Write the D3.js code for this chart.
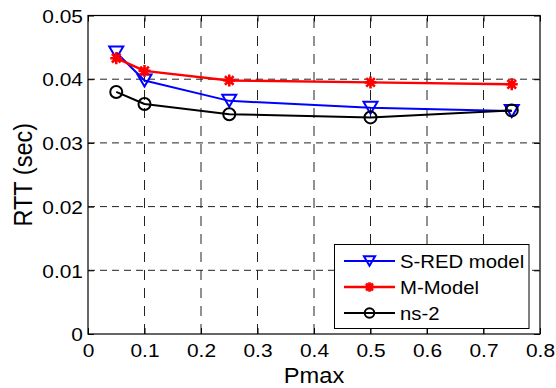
<!DOCTYPE html>
<html>
<head>
<meta charset="utf-8">
<script src="https://cdn.jsdelivr.net/npm/d3@7"></script>
<style>
  html, body { margin: 0; padding: 0; background: #fff; }
  svg { display: block; }
  text { font-family: "Liberation Sans", Arial, sans-serif; fill: #000; }
</style>
</head>
<body>
<svg id="chart" width="556" height="388"></svg>
<script>
// ---- data ----
const pmax = [0.05, 0.1, 0.25, 0.5, 0.75];
const sredModel = [0.0442, 0.0398, 0.0366, 0.0355, 0.0350];
const mModel = [0.0433, 0.0413, 0.0398, 0.0395, 0.0392];
const ns2 = [0.0380, 0.0361, 0.0345, 0.0340, 0.0351];
const seriesNames = ["S-RED model", "M-Model", "ns-2"];
const seriesColors = ["#0000ff", "#ff0000", "#000000"];
const seriesMarkers = ["triangleDown", "asterisk", "circle"];
const xTicks = [0, 0.1, 0.2, 0.3, 0.4, 0.5, 0.6, 0.7, 0.8];
const xTickLabels = ["0", "0.1", "0.2", "0.3", "0.4", "0.5", "0.6", "0.7", "0.8"];
const yTicks = [0, 0.01, 0.02, 0.03, 0.04, 0.05];
const yTickLabels = ["0", "0.01", "0.02", "0.03", "0.04", "0.05"];
const xLabel = "Pmax";
const yLabel = "RTT (sec)";

// ---- layout ----
const L = 88, R = 540, T = 15.5, B = 334;
const SX = 1.1; // horizontal text stretch
const svg = d3.select("#chart");
const x = d3.scaleLinear().domain([0, 0.8]).range([L, R]);
const y = d3.scaleLinear().domain([0, 0.05]).range([B, T]);

// grid
const grid = svg.append("g");
grid.selectAll("line.gx").data(xTicks.slice(1, -1)).enter().append("line")
  .attr("x1", d => x(d)).attr("x2", d => x(d)).attr("y1", B).attr("y2", T)
  .attr("stroke", "#222").attr("stroke-width", 1).attr("stroke-dasharray", "10,8");
grid.selectAll("line.gy").data(yTicks.slice(1, -1)).enter().append("line")
  .attr("x1", L).attr("x2", R).attr("y1", d => y(d)).attr("y2", d => y(d))
  .attr("stroke", "#222").attr("stroke-width", 1).attr("stroke-dasharray", "7,5");

// axes
const gx = svg.append("g").attr("transform", `translate(0,${B})`)
  .call(d3.axisBottom(x).tickValues(xTicks).tickFormat((d, i) => xTickLabels[i])
    .tickSizeInner(-6).tickSizeOuter(0).tickPadding(8));
const gxTop = svg.append("g").attr("transform", `translate(0,${T})`)
  .call(d3.axisTop(x).tickValues(xTicks).tickFormat("").tickSizeInner(-6).tickSizeOuter(0));
const gy = svg.append("g").attr("transform", `translate(${L},0)`)
  .call(d3.axisLeft(y).tickValues(yTicks).tickFormat((d, i) => yTickLabels[i])
    .tickSizeInner(-6).tickSizeOuter(0).tickPadding(5));
const gyR = svg.append("g").attr("transform", `translate(${R},0)`)
  .call(d3.axisRight(y).tickValues(yTicks).tickFormat("").tickSizeInner(-6).tickSizeOuter(0));
[gx, gxTop, gy, gyR].forEach(g => {
  g.select(".domain").remove();
  g.selectAll(".tick line").attr("stroke", "#000").attr("stroke-width", 1);
});
gx.selectAll(".tick text").attr("font-size", 19).attr("font-family", "Liberation Sans, Arial, sans-serif")
  .attr("y", null).attr("dy", null)
  .attr("transform", "translate(0,22.5) scale(" + SX + ",1)");
gy.selectAll(".tick text").attr("font-size", 19).attr("font-family", "Liberation Sans, Arial, sans-serif")
  .attr("x", null).attr("dy", null)
  .attr("transform", "translate(-5,6.7) scale(" + SX + ",1)");

// box
svg.append("rect").attr("x", L).attr("y", T).attr("width", R - L).attr("height", B - T)
  .attr("fill", "none").attr("stroke", "#000").attr("stroke-width", 1.2);

// axis labels
svg.append("text").text(xLabel).attr("font-size", 21.5).attr("text-anchor", "middle")
  .attr("transform", `translate(${(L + R) / 2},383) scale(${SX},1)`);
svg.append("text").text(yLabel).attr("font-size", 23.5).attr("text-anchor", "middle")
  .attr("transform", `translate(32,${(T + B) / 2}) scale(${SX},1) rotate(-90)`);

// markers
function markerPath(type, s) {
  const p = d3.path();
  if (type === "triangleDown") {
    p.moveTo(-7 * s, -6 * s); p.lineTo(7 * s, -6 * s); p.lineTo(0, 6 * s); p.closePath();
  } else if (type === "asterisk") {
    const r = 6 * s, q = r * 0.72;
    p.moveTo(-r, 0); p.lineTo(r, 0);
    p.moveTo(0, -r); p.lineTo(0, r);
    p.moveTo(-q, -q); p.lineTo(q, q);
    p.moveTo(-q, q); p.lineTo(q, -q);
  } else {
    p.arc(0, 0, 6 * s, 0, 2 * Math.PI);
  }
  return p.toString();
}

const allSeries = [sredModel, mModel, ns2];
const line = d3.line().x(d => x(d[0])).y(d => y(d[1]));
allSeries.forEach((vals, si) => {
  const pts = pmax.map((p, i) => [p, vals[i]]);
  const g = svg.append("g");
  g.append("path").datum(pts).attr("d", line).attr("fill", "none")
    .attr("stroke", seriesColors[si]).attr("stroke-width", si === 1 ? 2.4 : 2)
    .attr("stroke-linejoin", "round");
  g.selectAll("path.m").data(pts).enter().append("path").attr("class", "m")
    .attr("transform", d => `translate(${x(d[0])},${y(d[1])})`)
    .attr("d", markerPath(seriesMarkers[si], 1))
    .attr("fill", "none").attr("stroke", seriesColors[si])
    .attr("stroke-width", si === 1 ? 2.6 : 2);
});

// legend
const lg = svg.append("g");
lg.append("rect").attr("x", 334.5).attr("y", 244.5).attr("width", 194.5).attr("height", 84)
  .attr("fill", "#fff").attr("stroke", "#000").attr("stroke-width", 1);
seriesNames.forEach((name, i) => {
  const cy = 261 + i * 26;
  lg.append("line").attr("x1", 344).attr("x2", 395).attr("y1", cy).attr("y2", cy)
    .attr("stroke", seriesColors[i]).attr("stroke-width", i === 1 ? 2.4 : 2);
  lg.append("path").attr("transform", `translate(369.5,${cy})`)
    .attr("d", markerPath(seriesMarkers[i], 0.8))
    .attr("fill", "none").attr("stroke", seriesColors[i]).attr("stroke-width", i === 1 ? 2.6 : 2);
  lg.append("text").text(name).attr("font-size", 19)
    .attr("transform", `translate(400,${cy + 7}) scale(1.07,1)`);
});
</script>
</body>
</html>
